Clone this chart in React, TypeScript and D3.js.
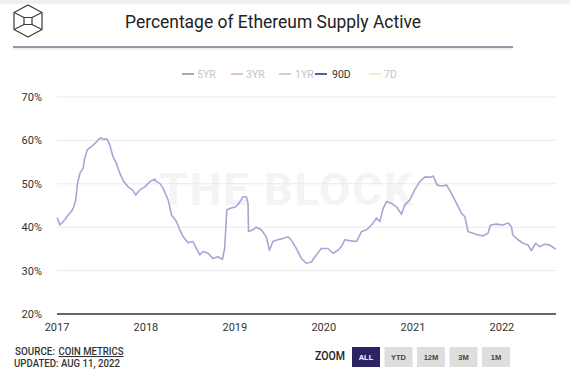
import React from "react";
import * as d3 from "d3";

const dates: string[] = [
  "2017-01-02","2017-01-13","2017-01-20","2017-02-02","2017-02-16","2017-03-01","2017-03-11","2017-03-19","2017-03-25","2017-04-05",
  "2017-04-18","2017-04-25","2017-05-05","2017-05-23","2017-06-06","2017-06-19","2017-06-29","2017-07-09","2017-07-26","2017-08-06",
  "2017-08-19","2017-09-02","2017-09-16","2017-10-02","2017-10-20","2017-11-07","2017-11-20","2017-12-07","2017-12-28","2018-01-17",
  "2018-02-07","2018-02-13","2018-02-27","2018-03-12","2018-04-02","2018-04-16","2018-05-06","2018-05-20","2018-06-03","2018-06-23",
  "2018-07-13","2018-07-27","2018-08-10","2018-08-24","2018-09-13","2018-10-03","2018-10-24","2018-11-11","2018-11-20","2018-11-29",
  "2018-12-17","2019-01-04","2019-01-18","2019-02-03","2019-02-17","2019-02-24","2019-02-26","2019-03-16","2019-03-29","2019-04-19",
  "2019-05-10","2019-05-23","2019-06-06","2019-06-26","2019-07-17","2019-08-07","2019-08-20","2019-09-10","2019-10-01","2019-10-21",
  "2019-11-11","2019-12-01","2019-12-22","2020-01-18","2020-02-08","2020-02-28","2020-03-13","2020-03-27","2020-04-16","2020-05-14",
  "2020-06-04","2020-06-24","2020-07-15","2020-08-04","2020-08-18","2020-09-01","2020-09-14","2020-10-05","2020-10-25","2020-11-15",
  "2020-11-28","2020-12-19","2021-01-08","2021-01-29","2021-02-19","2021-03-11","2021-03-25","2021-04-10","2021-04-28","2021-05-19",
  "2021-06-08","2021-06-29","2021-07-19","2021-08-02","2021-08-15","2021-09-05","2021-09-25","2021-10-16","2021-11-05","2021-11-15",
  "2021-12-09","2022-01-06","2022-01-26","2022-02-09","2022-02-15","2022-03-08","2022-03-29","2022-04-18","2022-05-02","2022-05-20",
  "2022-06-05","2022-06-26","2022-07-16","2022-08-06","2022-08-11"
];

const active90d: number[] = [
  42.2,40.5,40.9,41.7,42.8,43.6,44.7,46.3,49.7,52.4,
  53.6,55.9,57.8,58.6,59.3,60.1,60.6,60.3,60.3,58.9,
  56.2,54.7,52.4,50.5,49.3,48.6,47.4,48.6,49.3,50.5,
  51.1,50.5,50.1,49.0,46.3,42.8,41.3,39.4,37.8,36.4,
  36.7,35.1,33.6,34.4,34.0,32.8,33.2,32.6,35.1,44.0,
  44.4,44.7,45.5,47.0,47.0,45.5,39.0,39.4,40.0,39.4,
  37.8,34.7,36.7,37.1,37.4,37.8,37.1,35.1,32.8,31.7,
  32.0,33.6,35.1,35.1,34.0,34.7,35.5,37.1,36.9,36.7,
  39.0,39.4,40.5,42.1,41.3,44.4,45.9,45.5,44.7,43.0,
  45.1,46.3,48.6,50.5,51.6,51.5,51.8,49.7,49.5,49.7,
  47.8,45.5,43.2,42.4,39.0,38.6,38.2,38.0,38.6,40.5,
  40.7,40.5,41.0,40.1,38.2,37.1,36.3,35.9,34.6,36.3,
  35.5,36.1,35.9,35.1,35.0
];

const yTicks: number[] = [20, 30, 40, 50, 60, 70];
const xTickYears: number[] = [2017, 2018, 2019, 2020, 2021, 2022];

const legendNames: string[] = ["5YR", "3YR", "1YR", "90D", "7D"];
const legendColors: string[] = ["#a9a9b3", "#e8bfcb", "#c9d5dc", "#5b5a9c", "#f2efc4"];
const legendActive: boolean[] = [false, false, false, true, false];

const zoomButtons: string[] = ["ALL", "YTD", "12M", "3M", "1M"];

export default function App() {
  const parse = d3.timeParse("%Y-%m-%d");
  const data = dates.map((d, i) => ({ date: parse(d) as Date, value: active90d[i] }));

  const x = d3.scaleTime()
    .domain([new Date(2017, 0, 1), new Date(2022, 7, 11)])
    .range([57, 556]);
  const y = d3.scaleLinear().domain([20, 70]).range([314, 97]);

  const line = d3.line<{ date: Date; value: number }>()
    .x((d) => x(d.date))
    .y((d) => y(d.value))
    .curve(d3.curveLinear);

  const font = "Roboto, 'Open Sans', sans-serif";
  const footFont = "'Roboto', 'Liberation Sans', Arial, sans-serif";
  const legendLineX = [182, 231, 279, 315, 369];
  const legendTextX = [197, 246, 295, 332, 384];

  return (
    <svg width={570} height={376} style={{ position: "absolute", left: 0, top: 0, background: "#fff" }}>
      <rect x={0} y={0} width={570} height={4} fill="#f1f1f1" />
      {/* logo */}
      <g fill="none" stroke="#3a3a3a" strokeWidth={1.2} strokeLinejoin="round">
        <polygon points="28,5 42,12.5 42,29.5 28,37 14,29.5 14,12.5" />
        <line x1={14} y1={12.5} x2={24} y2={17.5} />
        <line x1={42} y1={12.5} x2={32} y2={17.5} />
        <line x1={14} y1={29.5} x2={24} y2={24.5} />
        <line x1={42} y1={29.5} x2={32} y2={24.5} />
        <rect x={24} y={17.5} width={8} height={7} />
      </g>
      <text x={273} y={28} textAnchor="middle" fontFamily={font} fontSize={17.5} fill="#222" textLength={296} lengthAdjust="spacingAndGlyphs">
        Percentage of Ethereum Supply Active
      </text>
      <line x1={13} x2={513} y1={47} y2={47} stroke="#3d2c50" strokeWidth={1.2} />
      <rect x={13} y={48} width={500} height={2} fill="#f7eef5" />

      {/* legend */}
      {legendNames.map((n, i) => (
        <g key={n}>
          <line x1={legendLineX[i]} x2={legendLineX[i] + 12} y1={74} y2={74} stroke={legendColors[i]} strokeWidth={2} />
          <text x={legendTextX[i]} y={78} fontFamily={font} fontSize={10.5}
            fill={legendActive[i] ? "#333" : "#c4c4c4"}>{n}</text>
        </g>
      ))}

      {/* watermark */}
      <text x={287} y={205} textAnchor="middle" fontFamily={font} fontWeight={700} fontSize={45}
        fill="#f4f4f4" letterSpacing={2}>THE BLOCK</text>

      {/* grid */}
      {yTicks.map((t) => (
        <g key={t}>
          {t !== 20 && (
            <line x1={57} x2={556} y1={y(t)} y2={y(t)} stroke="#e9e9e9" strokeWidth={1} />
          )}
          <text x={42} y={y(t) + 4} textAnchor="end" fontFamily={font} fontSize={11} fill="#333">{t}%</text>
        </g>
      ))}
      <line x1={57} x2={556} y1={y(20)} y2={y(20)} stroke="#333" strokeWidth={1.5} />
      {xTickYears.map((yr) => (
        <text key={yr} x={x(new Date(yr, 0, 1))} y={331} textAnchor="middle" fontFamily={font} fontSize={11} fill="#333">{yr}</text>
      ))}

      <path d={line(data) || ""} fill="none" stroke="#a8a5d6" strokeWidth={1.6} strokeLinejoin="round" />

      {/* footer */}
      <text x={15} y={355} fontFamily={footFont} fontWeight={500} fontSize={10.5} fill="#333">
        <tspan textLength={40} lengthAdjust="spacingAndGlyphs">SOURCE:</tspan>
        <tspan x={58.5} textLength={65} lengthAdjust="spacingAndGlyphs" textDecoration="underline" style={{ textDecoration: "underline" }}>COIN METRICS</tspan>
      </text>
      <text x={14} y={367} fontFamily={footFont} fontWeight={500} fontSize={10.5} fill="#333" textLength={106} lengthAdjust="spacingAndGlyphs">
        UPDATED: AUG 11, 2022
      </text>
      <text x={315} y={360} fontFamily={footFont} fontWeight={500} fontSize={12} fill="#222" textLength={30} lengthAdjust="spacingAndGlyphs">ZOOM</text>
      {zoomButtons.map((b, i) => {
        const bx = [352, 384.5, 417, 449.5, 482][i];
        const active = i === 0;
        return (
          <g key={b}>
            <rect x={bx} y={347} width={28} height={20} fill={active ? "#2b2366" : "#dedede"} />
            <text x={bx + 14} y={360} textAnchor="middle" fontFamily="'Liberation Sans', Arial, sans-serif"
              fontSize={7.5} fontWeight={700} fill={active ? "#fff" : "#444"}>{b}</text>
          </g>
        );
      })}
    </svg>
  );
}
